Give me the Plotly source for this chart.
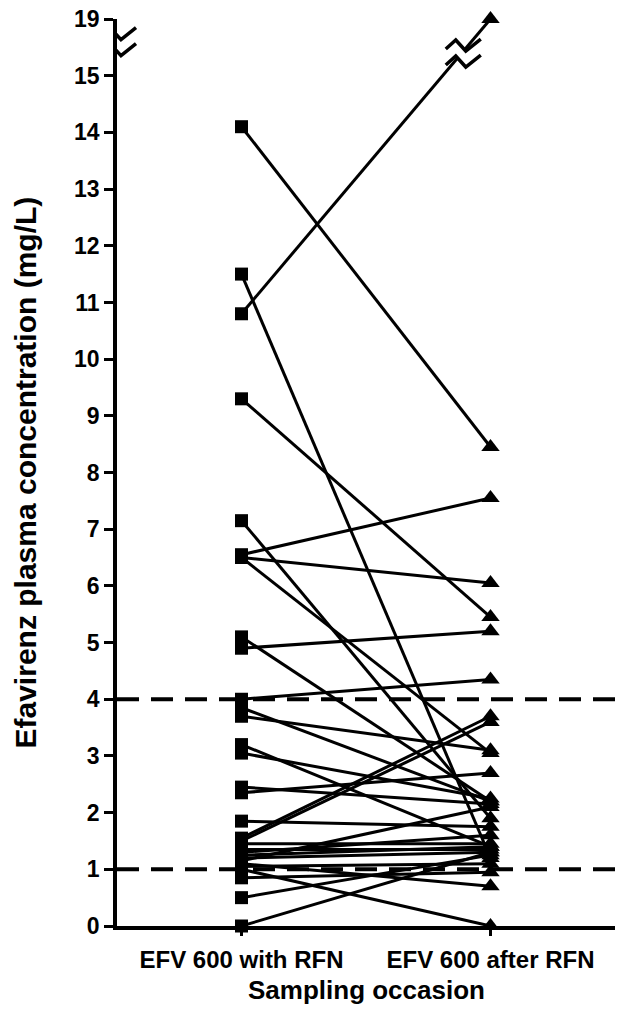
import plotly.graph_objects as go

# ---- data ----
categories = ["EFV 600 with RFN", "EFV 600 after RFN"]
with_rfn = [14.1, 11.5, 10.8, 9.3, 7.15, 6.55, 6.5, 6.5, 5.1, 4.9, 4.0, 3.85, 3.7,
            3.2, 3.05, 2.45, 2.35, 1.85, 1.55, 1.5, 1.45, 1.35, 1.3, 1.25, 1.2,
            1.15, 1.1, 1.05, 1.0, 0.85, 0.5, 0.0]
after_rfn = [8.45, 1.2, 19.0, 5.45, 1.9, 7.55, 6.05, 3.05, 2.2, 5.2, 4.35, 2.2, 3.1,
             1.4, 2.25, 2.15, 2.7, 1.75, 3.7, 3.6, 1.45, 1.35, 1.6, 1.4, 1.3,
             2.1, 0.7, 1.1, 0.0, 0.95, 1.25, 1.3]
y_tick_values = list(range(0, 16)) + [19]
reference_levels = [1, 4]
x_title = "Sampling occasion"
y_title = "Efavirenz plasma concentration (mg/L)"

# ---- axis break: values above 15 are compressed (15 | 19) ----
BREAK_LOW, BREAK_HIGH, BREAK_GAP = 15, 19, 1.0


def to_axis(v):
    if v <= BREAK_LOW:
        return v
    return BREAK_LOW + BREAK_GAP * (v - BREAK_LOW) / (BREAK_HIGH - BREAK_LOW)


xs, ys = [], []
for a, b in zip(with_rfn, after_rfn):
    xs += [0, 1, None]
    ys += [to_axis(a), to_axis(b), None]

fig = go.Figure()
for lvl in reference_levels:
    fig.add_shape(type="line", xref="paper", yref="y", x0=0, x1=1, y0=lvl, y1=lvl,
                  line=dict(color="black", width=4, dash="22px,12px"), layer="below")

fig.add_trace(go.Scatter(x=xs, y=ys, mode="lines", line=dict(color="black", width=3),
                         hoverinfo="skip", cliponaxis=False, showlegend=False))
fig.add_trace(go.Scatter(x=[0] * len(with_rfn), y=[to_axis(v) for v in with_rfn], mode="markers",
                         marker=dict(symbol="square", size=13, color="black"),
                         cliponaxis=False, showlegend=False))
fig.add_trace(go.Scatter(x=[1] * len(after_rfn), y=[to_axis(v) for v in after_rfn], mode="markers",
                         marker=dict(symbol="triangle-up", size=16, color="black"),
                         cliponaxis=False, showlegend=False))

# ---- break decorations ----
PX_X = 1 / 249.0     # data units per pixel (x)
PX_Y = 1 / 56.75     # data units per pixel (y)
ZZ = [(-16, -4), (-6, 5), (4, -6), (19, 6)]


def pts_path(cx, cy, pts):
    return " L ".join(f"{cx + dx * PX_X},{cy + dy * PX_Y}" for dx, dy in pts)


def break_mark(cx, cy):
    up = cy + 8 * PX_Y
    lo = cy - 8 * PX_Y
    fill = "M " + pts_path(cx, up, ZZ) + " L " + pts_path(cx, lo, ZZ[::-1]) + " Z"
    fig.add_shape(type="path", xref="x", yref="y", path=fill,
                  fillcolor="white", line=dict(width=0), layer="above")
    for yy in (up, lo):
        fig.add_shape(type="path", xref="x", yref="y", path="M " + pts_path(cx, yy, ZZ),
                      line=dict(color="black", width=3.5), layer="above")


x_min, x_max = -0.5, 1.5
break_mark(x_min, BREAK_LOW + 0.6)
a_hi = [(a, b) for a, b in zip(with_rfn, after_rfn) if b > BREAK_LOW][0]
line_break_y = BREAK_LOW + 0.4
t = (line_break_y - to_axis(a_hi[0])) / (to_axis(a_hi[1]) - to_axis(a_hi[0]))
break_mark(t, line_break_y)

font_family = "Arial, Liberation Sans, Helvetica, sans-serif"
OFF = 8  # page body offset
ML, MR, MT, MB = 117 - OFF, 14 + OFF, 19 - OFF, 88 + OFF
W, H = 629, 1014
pw, ph = W - ML - MR, H - MT - MB

fig.add_annotation(text=x_title, xref="paper", yref="paper", x=0.5,
                   y=-(990 - (H - MB + OFF)) / ph,
                   showarrow=False, xanchor="center", yanchor="middle",
                   font=dict(size=26, family=font_family, weight="bold", color="black"))
fig.add_annotation(text=y_title, xref="paper", yref="paper", x=-(117 - 25) / pw, y=0.5,
                   showarrow=False, xanchor="center", yanchor="middle", textangle=-90,
                   font=dict(size=30, family=font_family, weight="bold", color="black"))

fig.update_layout(
    width=W, height=H,
    margin=dict(l=ML, r=MR, t=MT, b=MB, autoexpand=False),
    plot_bgcolor="white", paper_bgcolor="white",
    font=dict(family=font_family, color="black", weight="bold"),
    xaxis=dict(range=[x_min, x_max], tickvals=[0, 1], ticktext=categories, automargin=False,
               showline=True, linecolor="black", linewidth=3.5, showgrid=False, zeroline=False,
               ticks="outside", ticklen=6, tickwidth=3, tickcolor="black", ticklabelstandoff=3,
               ticklabeloverflow="allow",
               tickfont=dict(size=24, family=font_family, weight="bold")),
    yaxis=dict(range=[0, to_axis(19)], tickvals=[to_axis(v) for v in y_tick_values],
               ticktext=[str(v) for v in y_tick_values], automargin=False,
               showline=True, linecolor="black", linewidth=3.5, showgrid=False, zeroline=False,
               ticks="outside", ticklen=9, tickwidth=3, tickcolor="black",
               ticklabeloverflow="allow",
               tickfont=dict(size=23, family=font_family, weight="bold")),
)

fig.write_html("out.html")
